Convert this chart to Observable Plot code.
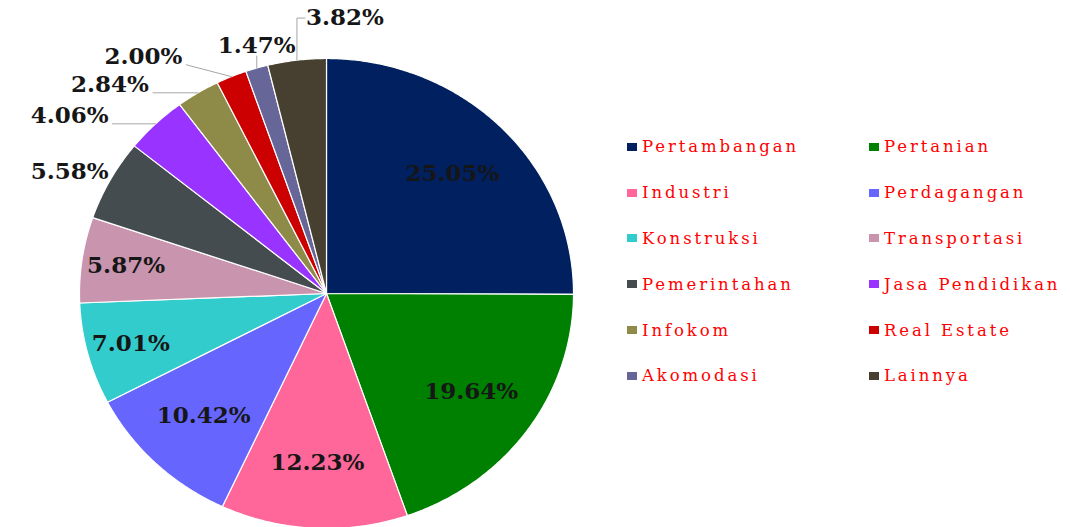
<!DOCTYPE html>
<html><head><meta charset="utf-8">
<script src="https://cdn.jsdelivr.net/npm/d3@7"></script>
<script src="https://cdn.jsdelivr.net/npm/@observablehq/plot@0.6"></script>
<style>
html,body{margin:0;padding:0;background:#fff;}
#wrap{position:relative;width:1070px;height:527px;overflow:hidden;}
#wrap svg text.pct{letter-spacing:2.3px;}
#legend{position:absolute;left:627px;top:124px;display:grid;grid-template-columns:242px 200px;grid-auto-rows:45.8px;font-family:"DejaVu Serif";font-size:16.5px;color:#ff0000;letter-spacing:2.9px;}
.item{display:flex;align-items:center;white-space:nowrap;}
.sw{width:10px;height:8px;margin-right:5px;flex:none;}
</style></head><body><div id="wrap"></div>
<script>
const categories = ["Pertambangan","Pertanian","Industri","Perdagangan","Konstruksi","Transportasi","Pemerintahan","Jasa Pendidikan","Infokom","Real Estate","Akomodasi","Lainnya"];
const values = [25.05, 19.64, 12.23, 10.42, 7.01, 5.87, 5.58, 4.06, 2.84, 2.00, 1.47, 3.82];
const colors = ["#002060","#008000","#ff6699","#6666ff","#33cccc","#c994ad","#444c4f","#9933ff","#8e8a48","#cc0000","#666699","#473f30"];

// layout
const cx = 326, cy = 293, rx = 247, ry = 235;
const labelWidth = 100; // approx px width of a percentage label

const total = d3.sum(values);
let acc = 0;
const slices = categories.map((name, i) => {
  const a0 = acc / total * 2 * Math.PI; acc += values[i];
  const a1 = acc / total * 2 * Math.PI;
  return {name, value: values[i], a0, a1, mid: (a0 + a1) / 2};
});

const wedges = slices.flatMap(s => {
  const n = Math.max(2, Math.ceil((s.a1 - s.a0) / (Math.PI / 360)));
  const pts = [{name: s.name, x: 0, y: 0}];
  for (let k = 0; k <= n; k++) {
    const a = s.a0 + (s.a1 - s.a0) * k / n;
    pts.push({name: s.name, x: Math.sin(a), y: Math.cos(a)});
  }
  pts.push({name: s.name, x: 0, y: 0});
  return pts;
});

// labels
const gap = 28 / ry, lead = 45 / rx;
const minEnd = (labelWidth + 8 - cx) / rx; // keep label inside the frame
const labelData = [], leaders = [];
let prevLeft = -Infinity, prevTop = -Infinity;
slices.forEach((s, i) => {
  const text = s.value.toFixed(2) + "%";
  const sx = Math.sin(s.mid), sy = Math.cos(s.mid);
  if (s.value > 5.7) {
    const r = s.value > 10 ? 0.72 : 0.82;
    labelData.push({text, x: sx * r, y: sy * r, anchor: "middle"});
  } else if (s.mid < 340 / 180 * Math.PI) {
    const y = Math.max(sy + 8 / ry, prevLeft + gap); prevLeft = y;
    const ex = Math.max(sx - lead, minEnd + 4 / rx);
    if (sx - ex > 8 / rx) leaders.push({id: i, x: sx, y: sy}, {id: i, x: ex, y: y - 8 / ry});
    labelData.push({text, x: ex - 4 / rx, y, anchor: "end"});
  } else {
    const y = Math.max(sy + 22 / ry, prevTop + gap); prevTop = y;
    const right = s.mid > 350 / 180 * Math.PI;
    leaders.push({id: i, x: sx, y: sy}, {id: i, x: sx, y: y - (right ? 0 : 10 / ry)});
    if (right) leaders.push({id: i, x: sx + 8 / rx, y});
    labelData.push({text, x: right ? sx + 9 / rx : sx, y, anchor: right ? "start" : "middle"});
  }
});

const textOpts = {x: "x", y: "y", text: "text", fontFamily: "DejaVu Serif", fontWeight: "bold", fontSize: 23, fill: "#161616", className: "pct"};

const chart = Plot.plot({
  width: 1070, height: 527, margin: 0,
  x: {domain: [-1, 1], range: [cx - rx, cx + rx], axis: null},
  y: {domain: [-1, 1], range: [cy + ry, cy - ry], axis: null},
  color: {domain: categories, range: colors},
  marks: [
    Plot.line(wedges, {x: "x", y: "y", z: "name", fill: "name", stroke: "white", strokeWidth: 1.2, strokeLinejoin: "round"}),
    Plot.line(leaders, {x: "x", y: "y", z: "id", stroke: "#a6a6a6", strokeWidth: 1}),
    Plot.text(labelData.filter(d => d.anchor === "middle"), {...textOpts, textAnchor: "middle"}),
    Plot.text(labelData.filter(d => d.anchor === "end"), {...textOpts, textAnchor: "end"}),
    Plot.text(labelData.filter(d => d.anchor === "start"), {...textOpts, textAnchor: "start"})
  ]
});
const wrap = document.getElementById("wrap");
wrap.appendChild(chart);

const legend = document.createElement("div");
legend.id = "legend";
categories.forEach((c, i) => {
  const it = document.createElement("div"); it.className = "item";
  const sw = document.createElement("span"); sw.className = "sw"; sw.style.background = colors[i];
  const tx = document.createElement("span"); tx.textContent = c;
  it.appendChild(sw); it.appendChild(tx); legend.appendChild(it);
});
wrap.appendChild(legend);
</script></body></html>
